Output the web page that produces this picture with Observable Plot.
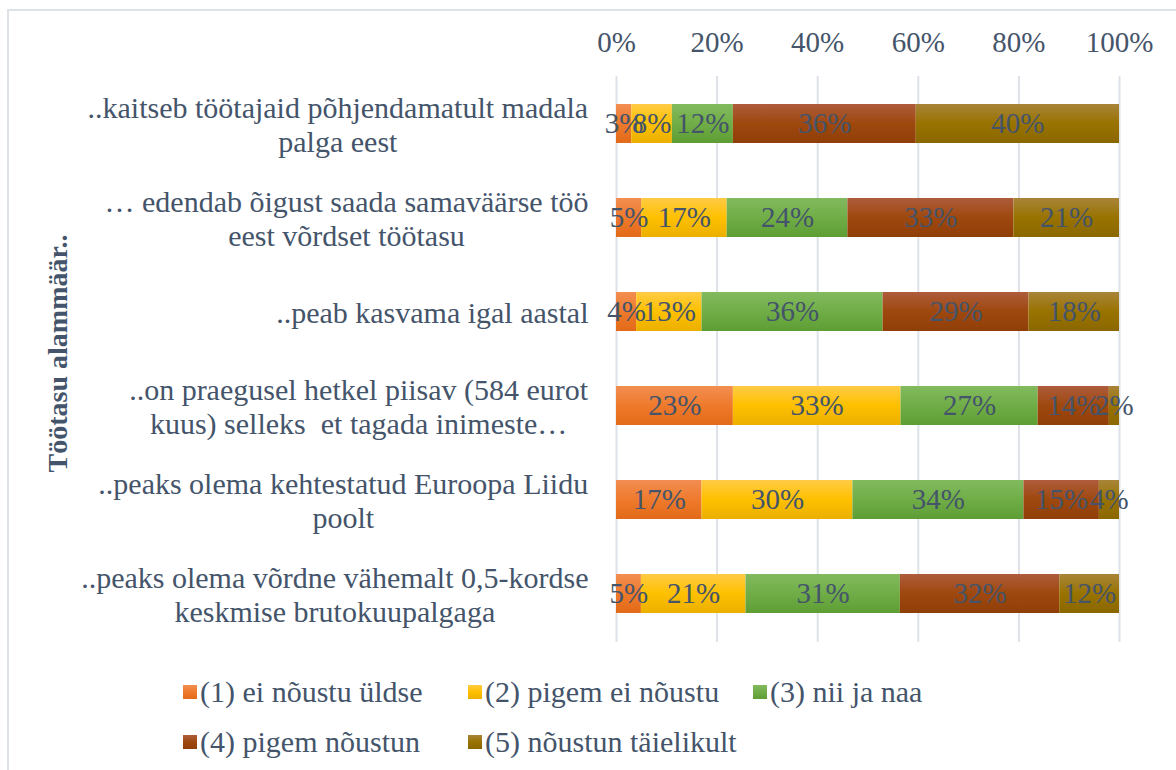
<!DOCTYPE html>
<html>
<head>
<meta charset="utf-8">
<script src="https://cdn.jsdelivr.net/npm/d3@7"></script>
<script src="https://cdn.jsdelivr.net/npm/@observablehq/plot@0.6"></script>
<style>
  body { margin: 0; background: white; }
  #wrap { position: relative; width: 1176px; height: 770px; overflow: hidden; font-family: "Liberation Serif", "Times New Roman", serif; color: #44546A; }
  #frame { position: absolute; left: 7px; top: 9px; width: 1200px; height: 800px; border-left: 2px solid #dde1e8; border-top: 2px solid #dde1e8; }
  #chart { position: absolute; left: 0; top: 0; }
  #legend { position: absolute; left: 183px; top: 667px; width: 870px; display: flex; flex-wrap: wrap; font-size: 30px; line-height: 50px; }
  .item { width: 285px; display: flex; align-items: center; white-space: nowrap; }
  .sw { width: 14px; height: 14px; margin-right: 3px; }
</style>
</head>
<body>
<div id="wrap">
  <div id="frame"></div>
  <div id="chart"></div>
  <div id="legend"></div>
</div>
<script>
const categories = [
  "..kaitseb töötajaid põhjendamatult madala\npalga eest",
  "… edendab õigust saada samaväärse töö\neest võrdset töötasu",
  "..peab kasvama igal aastal",
  "..on praegusel hetkel piisav (584 eurot\nkuus) selleks  et tagada inimeste…",
  "..peaks olema kehtestatud Euroopa Liidu\npoolt",
  "..peaks olema võrdne vähemalt 0,5-kordse\nkeskmise brutokuupalgaga"
];
const series = [
  "(1) ei nõustu üldse",
  "(2) pigem ei nõustu",
  "(3) nii ja naa",
  "(4) pigem nõustun",
  "(5) nõustun täielikult"
];
const s1 = [3, 5, 4, 23, 17, 5];
const s2 = [8, 17, 13, 33, 30, 21];
const s3 = [12, 24, 36, 27, 34, 31];
const s4 = [36, 33, 29, 14, 15, 32];
const s5 = [40, 21, 18, 2, 4, 12];
const xTicks = [0, 0.2, 0.4, 0.6, 0.8, 1];
const yTitle = "Töötasu alammäär..";

const baseColors = ["#EF7A2C", "#FFC000", "#70AD47", "#9E480E", "#997300"];
const topColors = ["#F28E52", "#FFCB45", "#82BA5E", "#AE5C3C", "#A8843A"];
const botColors = ["#E26A18", "#EBB000", "#5E9D34", "#903E08", "#8A6700"];

const seriesValues = [s1, s2, s3, s4, s5];
const data = [];
categories.forEach((c, i) => {
  series.forEach((s, j) => data.push({cat: c, series: s, value: seriesValues[j][i]}));
});

const textColor = "#44546A";
const fsTick = 29;
const fsCat = 30;

const chart = Plot.plot({
  width: 1176,
  height: 650,
  marginLeft: 616,
  marginRight: 57,
  marginTop: 76,
  marginBottom: 8,
  style: {fontFamily: "'Liberation Serif', 'Times New Roman', serif", fontSize: fsTick + "px", color: textColor, background: "transparent", overflow: "visible"},
  x: {domain: [0, 1]},
  y: {domain: categories, paddingInner: 0.585, paddingOuter: 0.2925},
  color: {domain: series, range: series.map((s, i) => `url(#grad${i})`)},
  marks: [
    Plot.gridX(xTicks, {stroke: "#dde1e8", strokeOpacity: 1, strokeWidth: 2}),
    Plot.barX(data, Plot.stackX({x: "value", y: "cat", fill: "series", order: series, offset: "normalize"})),
    Plot.text(data, Plot.stackX({x: "value", y: "cat", z: "series", order: series, offset: "normalize", text: d => d.value + "%", fill: textColor, fontSize: fsTick})),
    Plot.axisX({anchor: "top", ticks: xTicks, tickSize: 0, tickPadding: 25, tickFormat: d => Math.round(d * 100) + "%", label: null, fontSize: fsTick}),
    Plot.axisY({anchor: "left", tickSize: 0, tickPadding: 28, label: null, fontSize: fsCat, lineHeight: 1.15}),
    Plot.text([yTitle], {frameAnchor: "left", rotate: -90, textAnchor: "middle", dx: -558, dy: -6, fontWeight: "bold", fontSize: 28, fill: textColor})
  ]
});

// gradients
const svgNS = "http://www.w3.org/2000/svg";
const defs = document.createElementNS(svgNS, "defs");
baseColors.forEach((c, i) => {
  const g = document.createElementNS(svgNS, "linearGradient");
  g.setAttribute("id", "grad" + i);
  g.setAttribute("x1", "0"); g.setAttribute("y1", "0");
  g.setAttribute("x2", "0"); g.setAttribute("y2", "1");
  [[0, topColors[i]], [0.5, c], [1, botColors[i]]].forEach(([o, col]) => {
    const st = document.createElementNS(svgNS, "stop");
    st.setAttribute("offset", o);
    st.setAttribute("stop-color", col);
    g.appendChild(st);
  });
  defs.appendChild(g);
});
chart.insertBefore(defs, chart.firstChild);

document.getElementById("chart").appendChild(chart);

// center multi-line category labels within their block (right edge fixed)
chart.querySelectorAll('g[aria-label="y-axis tick label"] text').forEach(t => {
  const w = t.getBBox().width;
  t.setAttribute("text-anchor", "middle");
  const tr = t.getAttribute("transform") || "";
  t.setAttribute("transform", tr + ` translate(${-w / 2},0)`);
});

// legend
const legend = document.getElementById("legend");
series.forEach((s, i) => {
  const it = document.createElement("div");
  it.className = "item";
  const sw = document.createElement("span");
  sw.className = "sw";
  sw.style.background = `linear-gradient(${topColors[i]}, ${baseColors[i]}, ${botColors[i]})`;
  const lab = document.createElement("span");
  lab.textContent = s;
  it.appendChild(sw);
  it.appendChild(lab);
  legend.appendChild(it);
});
</script>
</body>
</html>
